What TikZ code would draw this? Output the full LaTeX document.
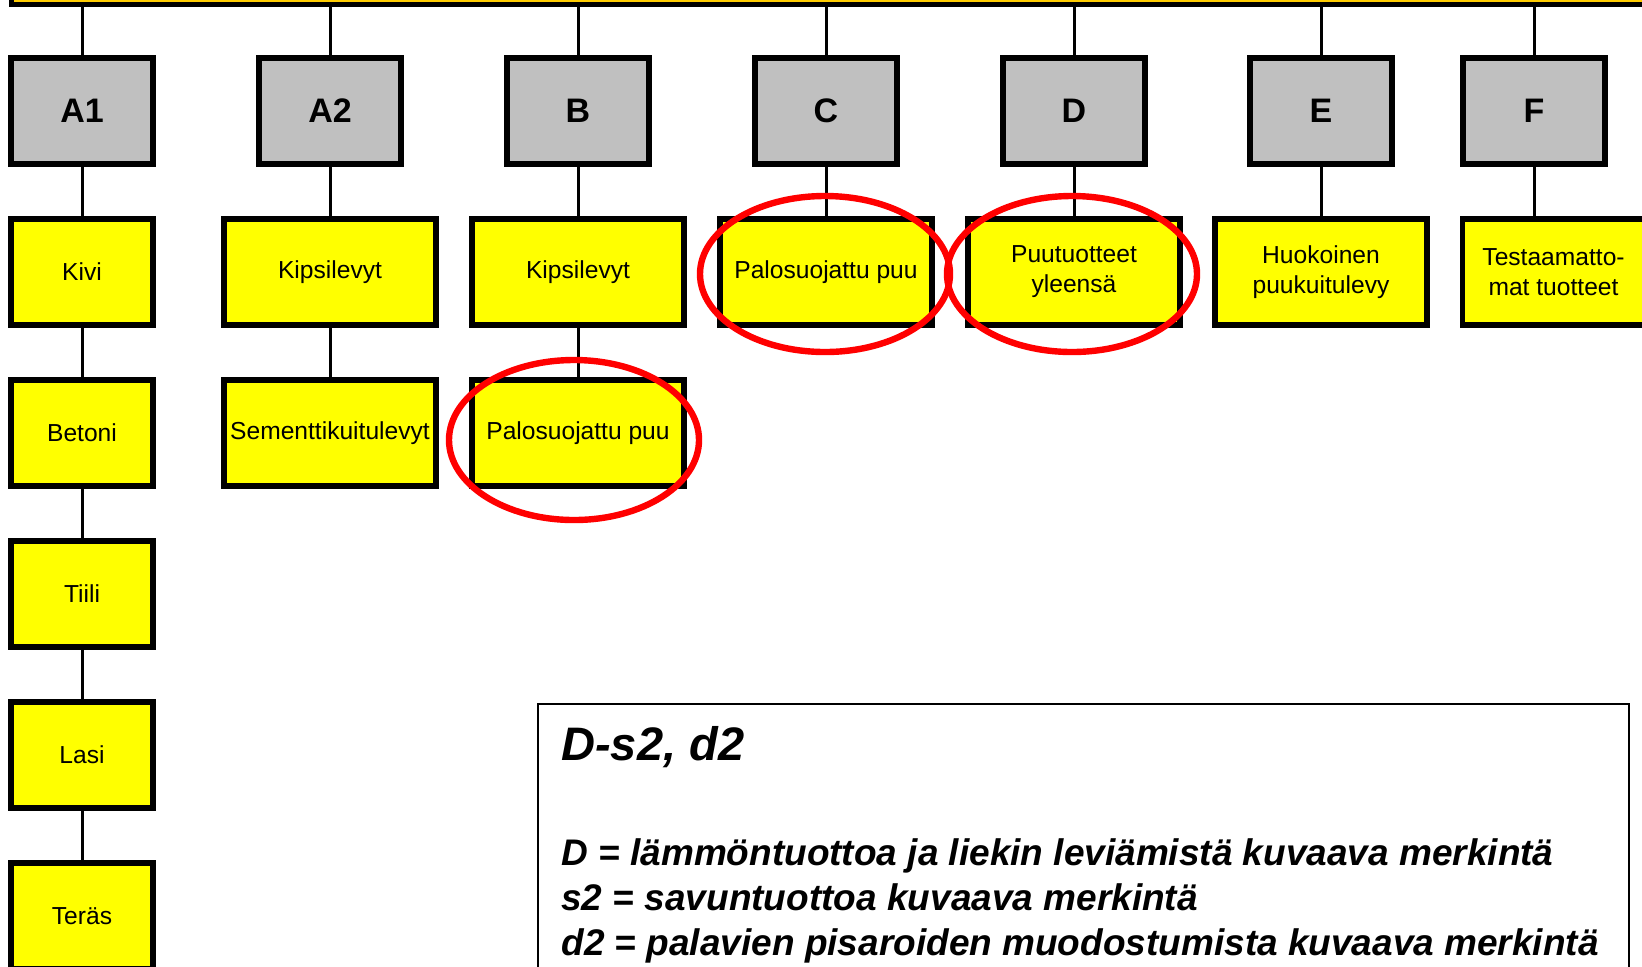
\documentclass[tikz,border=0pt]{standalone}
\usepackage{fontspec}
\setmainfont{Liberation Sans}
\definecolor{topbar}{RGB}{255,204,0}
\definecolor{boxgray}{RGB}{192,192,192}
\definecolor{boxyellow}{RGB}{255,255,0}
\definecolor{ringred}{RGB}{255,0,0}
\begin{document}
\begin{tikzpicture}[x=0.5pt,y=-0.5pt,
  classbox/.style={draw,line width=2.8pt,fill=boxgray,minimum width=71.2pt,minimum height=53.2pt,inner sep=0pt,font=\fontsize{17}{20}\selectfont\bfseries},
  prodbox/.style={draw,line width=2.8pt,fill=boxyellow,minimum width=106.2pt,minimum height=53.2pt,inner sep=0pt,align=center,font=\fontsize{12.3}{15}\selectfont},
  legtext/.style={anchor=base west,inner sep=0pt,font=\fontsize{18.5}{22.5}\selectfont\bfseries\itshape},
  link/.style={line width=1.5pt},
  ring/.style={draw=ringred,line width=3.2pt}]
\useasboundingbox (0,0) rectangle (1642,966);
\node[draw,line width=2.8pt,fill=topbar,outer sep=0pt,anchor=south west,minimum width=900pt,minimum height=30pt] (top) at (11.5,4.5) {};
\node[classbox] (00) at (82,111) {A1};
\node[classbox] (10) at (330,111) {A2};
\node[classbox] (20) at (578,111) {B};
\node[classbox] (30) at (826,111) {C};
\node[classbox] (40) at (1074,111) {D};
\node[classbox] (50) at (1321,111) {E};
\node[classbox] (60) at (1534,111) {F};
\node[prodbox,minimum width=71.2pt] (01) at (82,272) {Kivi};
\node[prodbox,minimum width=71.2pt] (02) at (82,433) {Betoni};
\node[prodbox,minimum width=71.2pt] (03) at (82,594) {Tiili};
\node[prodbox,minimum width=71.2pt] (04) at (82,755) {Lasi};
\node[prodbox,minimum width=71.2pt] (05) at (82,916) {Teräs};
\node[prodbox] (11) at (330,272) {Kipsilevyt};
\node[prodbox] (12) at (330,433) {Sementtikuitulevyt};
\node[prodbox] (21) at (578,272) {Kipsilevyt};
\node[prodbox] (22) at (578,433) {Palosuojattu puu};
\node[prodbox] (31) at (826,272) {Palosuojattu puu};
\node[prodbox] (41) at (1074,272) {Puutuotteet\\yleensä};
\node[prodbox] (51) at (1321,272) {Huokoinen\\puukuitulevy};
\node[prodbox,minimum width=91pt] (61) at (1553.5,272) {Testaamatto-\\mat tuotteet};
\draw[link] (00) -- (00 |- top.south);
\draw[link] (10) -- (10 |- top.south);
\draw[link] (20) -- (20 |- top.south);
\draw[link] (30) -- (30 |- top.south);
\draw[link] (40) -- (40 |- top.south);
\draw[link] (50) -- (50 |- top.south);
\draw[link] (60) -- (60 |- top.south);
\draw[link] (00) -- (01);
\draw[link] (01) -- (02);
\draw[link] (02) -- (03);
\draw[link] (03) -- (04);
\draw[link] (04) -- (05);
\draw[link] (10) -- (11);
\draw[link] (11) -- (12);
\draw[link] (20) -- (21);
\draw[link] (21) -- (22);
\draw[link] (30) -- (31);
\draw[link] (40) -- (41);
\draw[link] (50) -- (51);
\draw[link] (60) -- (60 |- 61.north);
% markings
\draw[ring] (22) ++(-4,7) ellipse [x radius=62.5pt,y radius=40pt];
\draw[ring] (31) ++(-1,2) ellipse [x radius=62.5pt,y radius=39pt];
\draw[ring] (41) ++(-2,2) ellipse [x radius=62.5pt,y radius=39pt];
% legend
\node[draw,line width=0.8pt,outer sep=0pt,anchor=north west,minimum width=545.5pt,minimum height=150pt] (legend) at (538,704) {};
\node[legtext,font=\fontsize{23.5}{28}\selectfont\bfseries\itshape] (l0) at (561,760) {D-s2, d2};
\node[legtext] (l1) at (561,865) {D = lämmöntuottoa ja liekin leviämistä kuvaava merkintä};
\node[legtext] (l2) at (561,910) {s2 = savuntuottoa kuvaava merkintä};
\node[legtext] (l3) at (561,955) {d2 = palavien pisaroiden muodostumista kuvaava merkintä};
\end{tikzpicture}
\end{document}
